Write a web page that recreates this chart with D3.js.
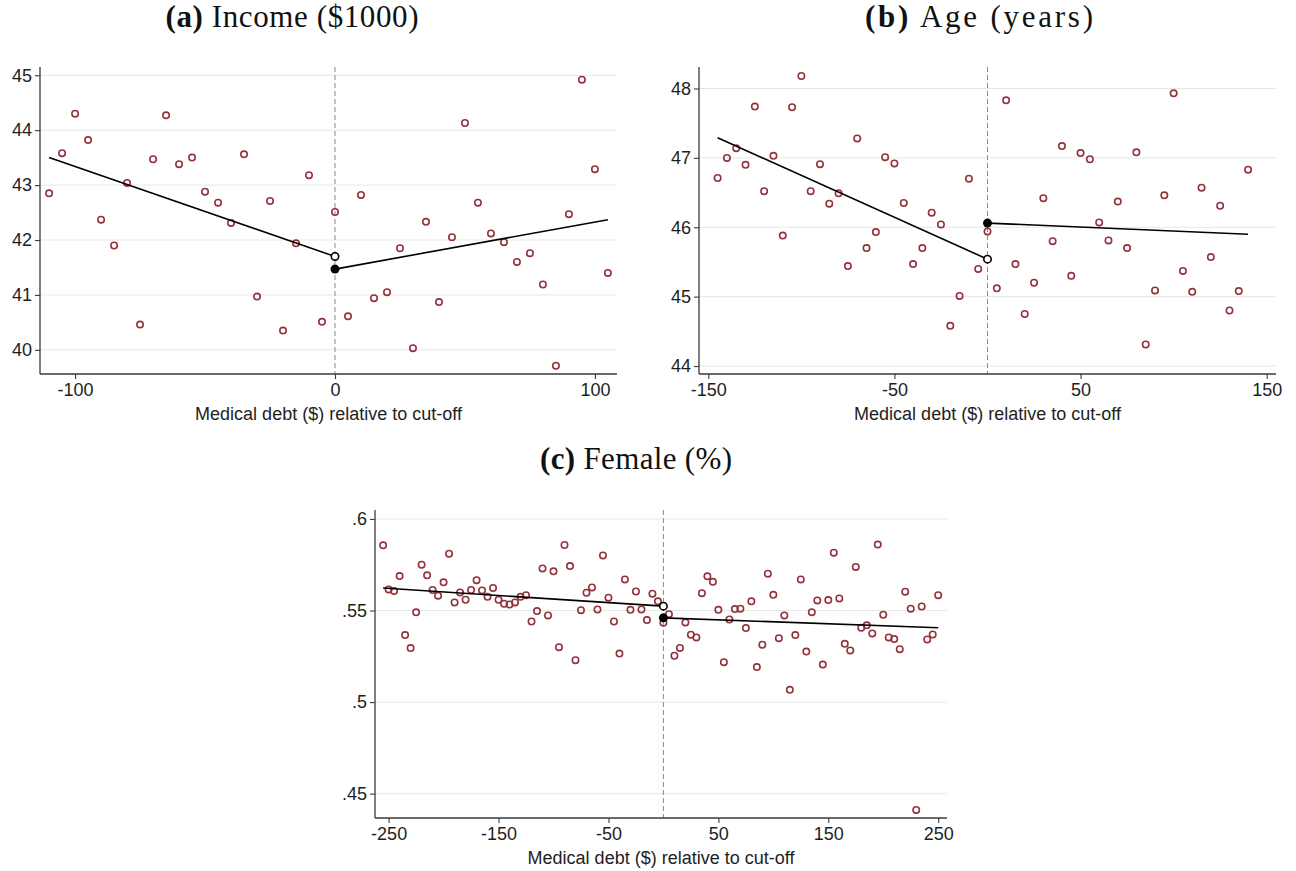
<!DOCTYPE html>
<html>
<head>
<meta charset="utf-8">
<script src="https://cdn.jsdelivr.net/npm/d3@7"></script>
<style>
  html, body { margin: 0; padding: 0; background: #fff; }
  svg { display: block; }
</style>
</head>
<body>
<svg id="chart" width="1296" height="871"></svg>
<script>
// ---------------- DATA ----------------
const xAxisTitle = "Medical debt ($) relative to cut-off";

// (a) Income ($1000)
const incomeX = [-110,-105,-100,-95,-90,-85,-80,-75,-70,-65,-60,-55,-50,-45,-40,-35,-30,-25,-20,-15,-10,-5,
                 0,5,10,15,20,25,30,35,40,45,50,55,60,65,70,75,80,85,90,95,100,105];
const incomeY = [42.85,43.58,44.30,43.82,42.37,41.90,43.04,40.46,43.47,44.27,43.38,43.50,42.88,42.68,42.31,43.56,40.97,42.71,40.35,41.94,43.18,40.51,
                 42.51,40.61,42.82,40.94,41.05,41.85,40.03,42.33,40.87,42.05,44.13,42.68,42.12,41.96,41.60,41.76,41.19,39.71,42.47,44.92,43.29,41.40];
const incomeFitLeft = [[-110, 43.50], [0, 41.70]];
const incomeFitRight = [[0, 41.47], [105, 42.37]];
const incomeXTicks = [-100, 0, 100];
const incomeYTicks = [40, 41, 42, 43, 44, 45];
const incomeYTickLabels = ["40", "41", "42", "43", "44", "45"];

// (b) Age (years)
const ageX = [-145,-140,-135,-130,-125,-120,-115,-110,-105,-100,-95,-90,-85,-80,-75,-70,-65,-60,-55,-50,-45,-40,-35,-30,-25,-20,-15,-10,-5,
              0,5,10,15,20,25,30,35,40,45,50,55,60,65,70,75,80,85,90,95,100,105,110,115,120,125,130,135,140];
const ageY = [46.71,47.00,47.14,46.90,47.74,46.52,47.03,45.88,47.73,48.18,46.52,46.91,46.34,46.49,45.44,47.28,45.70,45.93,47.01,46.92,46.35,45.47,45.70,46.21,46.04,44.58,45.01,46.70,45.40,
              45.94,45.12,47.83,45.47,44.75,45.20,46.42,45.80,47.17,45.30,47.07,46.98,46.07,45.81,46.37,45.70,47.08,44.31,45.09,46.46,47.93,45.37,45.07,46.57,45.57,46.31,44.80,45.08,46.83];
const ageFitLeft = [[-145, 47.29], [0, 45.54]];
const ageFitRight = [[0, 46.06], [140, 45.90]];
const ageXTicks = [-150, -50, 50, 150];
const ageYTicks = [44, 45, 46, 47, 48];
const ageYTickLabels = ["44", "45", "46", "47", "48"];

// (c) Female (%)
const femaleX = [-255,-250,-245,-240,-235,-230,-225,-220,-215,-210,-205,-200,-195,-190,-185,-180,-175,-170,-165,-160,-155,-150,
                 -145,-140,-135,-130,-125,-120,-115,-110,-105,-100,-95,-90,-85,-80,-75,-70,-65,-60,-55,-50,-45,-40,-35,-30,-25,-20,-15,-10,-5,
                 0,5,10,15,20,25,30,35,40,45,50,55,60,65,70,75,80,85,90,95,100,105,110,115,120,125,130,135,140,145,150,
                 155,160,165,170,175,180,185,190,195,200,205,210,215,220,225,230,235,240,245,250];
const femaleY = [.5856,.5615,.5606,.5688,.5366,.5295,.5490,.5750,.5692,.5612,.5581,.5654,.5810,.5544,.5599,.5559,.5612,.5666,.5610,.5575,.5623,.5559,
                 .5537,.5533,.5544,.5575,.5584,.5440,.5497,.5730,.5473,.5714,.5300,.5858,.5743,.5229,.5502,.5597,.5626,.5506,.5801,.5570,.5440,.5265,.5670,.5504,.5604,.5506,.5448,.5592,.5550,
                 .5433,.5480,.5253,.5296,.5435,.5368,.5353,.5595,.5687,.5657,.5504,.5218,.5451,.5508,.5510,.5404,.5550,.5191,.5313,.5701,.5586,.5349,.5473,.5067,.5366,.5670,.5276,.5491,.5555,.5205,.5557,
                 .5816,.5566,.5318,.5282,.5738,.5406,.5419,.5375,.5860,.5477,.5353,.5344,.5289,.5603,.5510,.4411,.5522,.5342,.5369,.5584];
const femaleFitLeft = [[-255, .5623], [0, .5524]];
const femaleFitRight = [[0, .5460], [250, .5406]];
const femaleXTicks = [-250, -150, -50, 50, 150, 250];
const femaleYTicks = [.45, .5, .55, .6];
const femaleYTickLabels = [".45", ".5", ".55", ".6"];

// ---------------- DRAWING ----------------
const svg = d3.select("#chart");
const POINT_COLOR = "#94323c";
const AXIS_COLOR = "#3a3a3a";
const TEXT_COLOR = "#1e1e1e";
const SANS = "'Liberation Sans', Arial, sans-serif";
const SERIF = "'Liberation Serif', 'Times New Roman', serif";
const FS = 18;

function drawTitle(cx, baseline, letter, rest, width) {
  const t = svg.append("text")
    .attr("x", cx).attr("y", baseline)
    .attr("text-anchor", "middle")
    .attr("font-family", SERIF)
    .attr("font-size", 31)
    .attr("fill", "#111")
    .attr("textLength", width)
    .attr("lengthAdjust", "spacing");
  t.append("tspan").attr("font-weight", "bold").text(letter);
  t.append("tspan").text(" " + rest);
}

function drawPanel(p) {
  const x = d3.scaleLinear().domain(p.xDomain).range([p.left, p.right]);
  const y = d3.scaleLinear().domain(p.yDomain).range([p.bottom, p.top]);
  const g = svg.append("g");

  // gridlines
  g.append("g").selectAll("line").data(p.yTicks).join("line")
    .attr("x1", p.left).attr("x2", p.right)
    .attr("y1", d => y(d)).attr("y2", d => y(d))
    .attr("stroke", "#e7e7e7").attr("stroke-width", 1);

  // cut-off dashed line
  g.append("line")
    .attr("x1", x(0)).attr("x2", x(0))
    .attr("y1", p.top).attr("y2", p.bottom)
    .attr("stroke", "#8a8a8a").attr("stroke-width", 1)
    .attr("stroke-dasharray", "5,3");

  // axes
  const xAxis = d3.axisBottom(x).tickValues(p.xTicks).tickSize(5).tickSizeOuter(0).tickPadding(4)
    .tickFormat(d3.format("d"));
  const yAxis = d3.axisLeft(y).tickValues(p.yTicks).tickSize(5).tickSizeOuter(0).tickPadding(3)
    .tickFormat((d, i) => p.yTickLabels[i]);

  const gx = g.append("g").attr("transform", `translate(0,${p.bottom})`).call(xAxis);
  const gy = g.append("g").attr("transform", `translate(${p.left},0)`).call(yAxis);
  gx.select(".domain").attr("d", `M${p.left},0H${p.right}`);
  gy.select(".domain").attr("d", `M0,${p.top}V${p.bottom}`);
  [gx, gy].forEach(a => {
    a.select(".domain").attr("stroke", AXIS_COLOR).attr("stroke-width", 1.3);
    a.selectAll(".tick line").attr("stroke", AXIS_COLOR).attr("stroke-width", 1.1);
    a.selectAll(".tick text").attr("font-family", SANS).attr("font-size", FS).attr("fill", TEXT_COLOR);
  });
  gx.selectAll(".tick text").text(d => d3.format("d")(d).replace("\u2212", "-"));

  // x-axis title
  g.append("text")
    .attr("x", (p.left + p.right) / 2).attr("y", p.bottom + 46)
    .attr("text-anchor", "middle")
    .attr("font-family", SANS).attr("font-size", FS).attr("fill", TEXT_COLOR)
    .text(xAxisTitle);

  // binned scatter points
  const pts = p.xs.map((d, i) => [d, p.ys[i]]);
  g.append("g").selectAll("circle").data(pts).join("circle")
    .attr("cx", d => x(d[0])).attr("cy", d => y(d[1]))
    .attr("r", 3.2)
    .attr("fill", "none").attr("stroke", POINT_COLOR).attr("stroke-width", 1.6);

  // fitted lines
  const line = d3.line().x(d => x(d[0])).y(d => y(d[1]));
  [p.fitLeft, p.fitRight].forEach(seg => {
    g.append("path").attr("d", line(seg))
      .attr("fill", "none").attr("stroke", "#000").attr("stroke-width", 1.6);
  });

  // endpoints at cut-off
  const leftEnd = p.fitLeft[p.fitLeft.length - 1];
  const rightStart = p.fitRight[0];
  g.append("circle").attr("cx", x(leftEnd[0])).attr("cy", y(leftEnd[1])).attr("r", 3.7)
    .attr("fill", "#fff").attr("stroke", "#000").attr("stroke-width", 1.6);
  g.append("circle").attr("cx", x(rightStart[0])).attr("cy", y(rightStart[1])).attr("r", 4.5)
    .attr("fill", "#000");
}

// Panel (a)
drawTitle(292, 27, "(a)", "Income ($1000)", 253);
drawPanel({
  left: 40, right: 617, top: 67, bottom: 374,
  xDomain: [-113.5, 108.5], yDomain: [39.56, 45.15],
  xTicks: incomeXTicks, yTicks: incomeYTicks, yTickLabels: incomeYTickLabels,
  xs: incomeX, ys: incomeY, fitLeft: incomeFitLeft, fitRight: incomeFitRight
});

// Panel (b)
drawTitle(979, 27, "(b)", "Age (years)", 228);
drawPanel({
  left: 699, right: 1276, top: 67, bottom: 374,
  xDomain: [-155, 155], yDomain: [43.885, 48.31],
  xTicks: ageXTicks, yTicks: ageYTicks, yTickLabels: ageYTickLabels,
  xs: ageX, ys: ageY, fitLeft: ageFitLeft, fitRight: ageFitRight
});

// Panel (c)
drawTitle(636, 469, "(c)", "Female (%)", 192);
drawPanel({
  left: 375, right: 947, top: 510, bottom: 818,
  xDomain: [-262.4, 258], yDomain: [0.4367, 0.6049],
  xTicks: femaleXTicks, yTicks: femaleYTicks, yTickLabels: femaleYTickLabels,
  xs: femaleX, ys: femaleY, fitLeft: femaleFitLeft, fitRight: femaleFitRight
});
</script>
</body>
</html>
